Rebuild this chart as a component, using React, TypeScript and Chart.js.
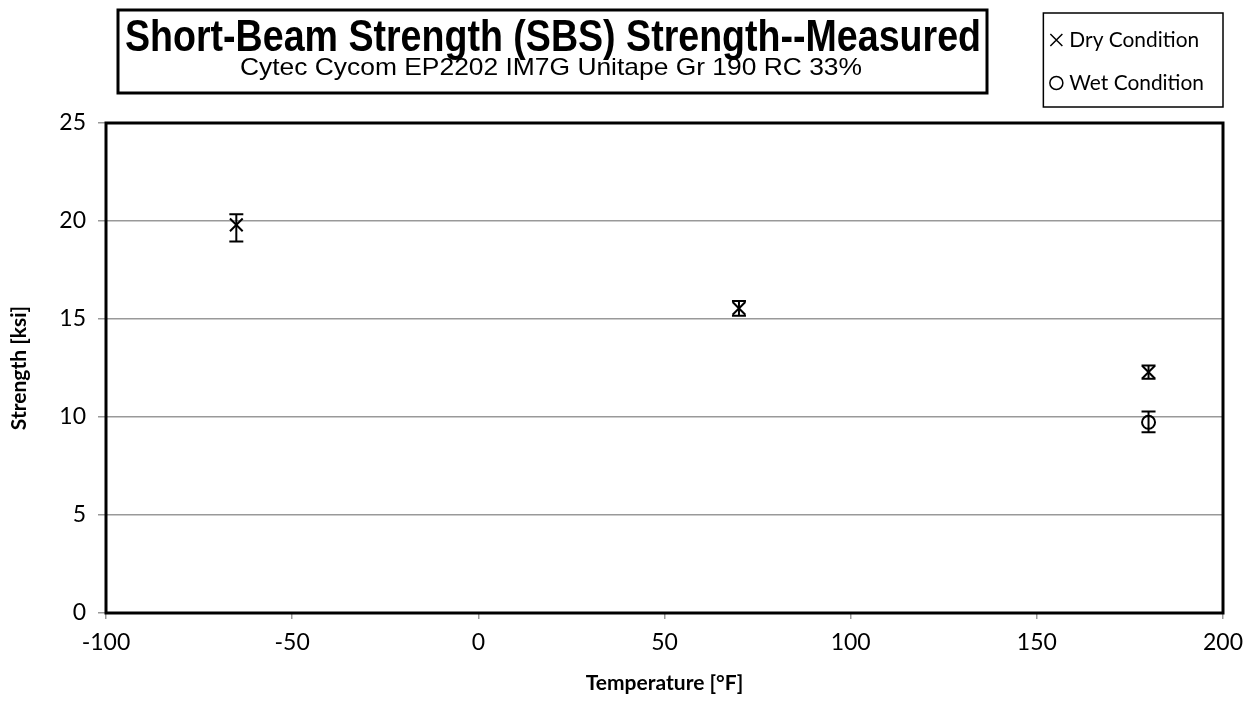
import React, { useEffect, useRef } from "react";
import { Chart, registerables } from "chart.js";

Chart.register(...registerables);

const dryTemps = [-65, 70, 180];
const dryMean = [19.8, 15.54, 12.29];
const dryLow = [18.95, 15.16, 11.95];
const dryHigh = [20.35, 15.92, 12.63];

const wetTemps = [180];
const wetMean = [9.73];
const wetLow = [9.22];
const wetHigh = [10.28];

const xTicks = [-100, -50, 0, 50, 100, 150, 200];
const yTicks = [0, 5, 10, 15, 20, 25];

const titleText = "Short-Beam Strength (SBS) Strength--Measured";
const subtitleText = "Cytec Cycom EP2202 IM7G Unitape Gr 190 RC 33%";
const legendLabels = ["Dry Condition", "Wet Condition"];
const xTitle = "Temperature [°F]";
const yTitle = "Strength [ksi]";

const SANS = "'Liberation Sans', Arial, sans-serif";
const CAL = "Lato, 'Open Sans', sans-serif";

function fitText(ctx: CanvasRenderingContext2D, text: string, x: number, cy: number, font: string, width: number, align: "center" | "left" | "right" = "center") {
  ctx.save();
  ctx.font = font;
  ctx.textBaseline = "middle";
  ctx.fillStyle = "#000";
  const w = ctx.measureText(text).width;
  const s = width / w;
  ctx.translate(x, cy);
  ctx.scale(s, 1);
  ctx.textAlign = align;
  ctx.fillText(text, 0, 0);
  ctx.restore();
}

const decorPlugin = {
  id: "decor",
  afterDatasetsDraw(chart: any) {
    const { ctx, scales } = chart;
    const xs = scales.x;
    const ys = scales.y;
    const drawErr = (temps: number[], lo: number[], hi: number[]) => {
      ctx.save();
      ctx.strokeStyle = "#000";
      ctx.lineWidth = 2;
      temps.forEach((t, i) => {
        const px = xs.getPixelForValue(t);
        const y1 = ys.getPixelForValue(lo[i]);
        const y2 = ys.getPixelForValue(hi[i]);
        ctx.beginPath();
        ctx.moveTo(px, y1);
        ctx.lineTo(px, y2);
        ctx.moveTo(px - 7, y1);
        ctx.lineTo(px + 7, y1);
        ctx.moveTo(px - 7, y2);
        ctx.lineTo(px + 7, y2);
        ctx.stroke();
      });
      ctx.restore();
    };
    drawErr(dryTemps, dryLow, dryHigh);
    drawErr(wetTemps, wetLow, wetHigh);
  },
  afterDraw(chart: any) {
    const { ctx, chartArea } = chart;
    ctx.save();
    ctx.strokeStyle = "#000";
    ctx.lineWidth = 3;
    ctx.strokeRect(chartArea.left, chartArea.top, chartArea.right - chartArea.left, chartArea.bottom - chartArea.top);

    // title box
    ctx.fillStyle = "#fff";
    ctx.fillRect(118, 10, 869, 83);
    ctx.lineWidth = 3;
    ctx.strokeRect(118, 10, 869, 83);
    fitText(ctx, titleText, 553, 39, `bold 45px ${SANS}`, 856);
    fitText(ctx, subtitleText, 551, 68, `24px ${SANS}`, 622);

    // legend box
    const lFont = `22px ${CAL}`;
    const squeeze = 0.95;
    ctx.font = lFont;
    const w0 = ctx.measureText(legendLabels[0]).width * squeeze;
    const w1 = ctx.measureText(legendLabels[1]).width * squeeze;
    const tw = Math.max(w0, w1);
    const textRight = 1204;
    const textLeft = textRight - tw;
    const mx = textLeft - 13;
    const boxLeft = mx - 13;
    ctx.fillStyle = "#fff";
    ctx.fillRect(boxLeft, 13, 1223 - boxLeft, 94);
    ctx.lineWidth = 1.5;
    ctx.strokeRect(boxLeft, 13, 1223 - boxLeft, 94);
    ctx.strokeStyle = "#000";
    ctx.lineWidth = 1.5;
    ctx.beginPath();
    ctx.moveTo(mx - 6, 34);
    ctx.lineTo(mx + 6, 46);
    ctx.moveTo(mx + 6, 34);
    ctx.lineTo(mx - 6, 46);
    ctx.stroke();
    ctx.beginPath();
    ctx.arc(mx, 83, 6.5, 0, Math.PI * 2);
    ctx.stroke();
    fitText(ctx, legendLabels[0], textLeft, 40, lFont, w0, "left");
    fitText(ctx, legendLabels[1], textLeft, 83, lFont, w1, "left");
    ctx.restore();
  },
};

export default function App() {
  const ref = useRef<HTMLCanvasElement | null>(null);
  useEffect(() => {
    document.body.style.margin = "0";
    const canvas = ref.current!;
    const chart = new Chart(canvas, {
      type: "scatter",
      data: {
        datasets: [
          {
            label: legendLabels[0],
            data: dryTemps.map((t, i) => ({ x: t, y: dryMean[i] })),
            pointStyle: "crossRot",
            pointRadius: 9,
            pointBorderWidth: 2,
            borderColor: "#000",
            backgroundColor: "#000",
          },
          {
            label: legendLabels[1],
            data: wetTemps.map((t, i) => ({ x: t, y: wetMean[i] })),
            pointStyle: "circle",
            pointRadius: 6.5,
            pointBorderWidth: 2,
            borderColor: "#000",
            backgroundColor: "rgba(255,255,255,0)",
          },
        ],
      },
      options: {
        animation: false,
        responsive: false,
        maintainAspectRatio: false,
        layout: { padding: { top: 123, right: 34, left: 0, bottom: 0 } },
        plugins: { legend: { display: false }, tooltip: { enabled: false }, title: { display: false } },
        scales: {
          x: {
            type: "linear",
            min: -100,
            max: 200,
            afterBuildTicks: (s: any) => { s.ticks = xTicks.map((v) => ({ value: v })); },
            afterFit: (s: any) => { s.height = 96; },
            grid: { display: true, drawOnChartArea: false, drawTicks: true, tickLength: 6, color: "#999", lineWidth: 1.5 },
            border: { display: false },
            ticks: { color: "#000", font: { family: CAL, size: 23 }, padding: 10, maxRotation: 0 },
            title: { display: true, text: xTitle, color: "#000", font: { family: CAL, size: 21, weight: "bold" }, padding: { top: 0, bottom: 13 } },
          },
          y: {
            type: "linear",
            min: 0,
            max: 25,
            afterBuildTicks: (s: any) => { s.ticks = yTicks.map((v) => ({ value: v })); },
            afterFit: (s: any) => { s.width = 106; },
            grid: { display: true, drawTicks: true, tickLength: 8, color: "#999", lineWidth: 1.5 },
            border: { display: false },
            ticks: { color: "#000", font: { family: CAL, size: 23 }, padding: 12 },
            title: { display: true, text: yTitle, color: "#000", font: { family: CAL, size: 21, weight: "bold" }, padding: { top: 7, bottom: 0 } },
          },
        },
      },
      plugins: [decorPlugin],
    } as any);
    return () => chart.destroy();
  }, []);
  return (
    <div style={{ position: "fixed", left: 0, top: 0, width: 1257, height: 709, background: "#fff" }}>
      <canvas ref={ref} width={1257} height={709} style={{ width: 1257, height: 709, display: "block" }} />
    </div>
  );
}
